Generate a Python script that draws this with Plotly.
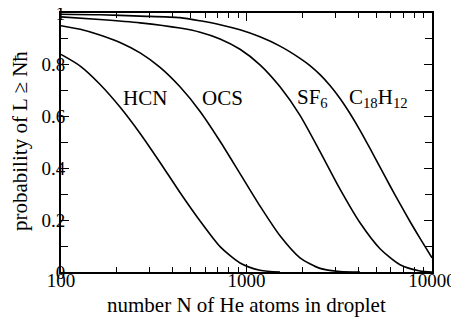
import plotly.graph_objects as go

# Data
hcn_n = [100, 127, 162, 208, 267, 342, 438, 562, 720, 923, 1182, 1516]
hcn_p = [0.84, 0.795, 0.725, 0.637, 0.535, 0.423, 0.307, 0.197, 0.098, 0.035, 0.007, 0.0]

ocs_n = [100, 127, 162, 208, 267, 342, 438, 562, 720, 923, 1182, 1516, 1943, 2491, 3193, 4093]
ocs_p = [0.951, 0.937, 0.915, 0.886, 0.846, 0.79, 0.715, 0.62, 0.505, 0.38, 0.255, 0.14, 0.055, 0.014, 0.002, 0.0]

sf6_n = [100, 162, 267, 438, 562, 720, 923, 1182, 1516, 1943, 2491, 3193, 4093, 5246, 6725, 8620, 10000]
sf6_p = [0.985, 0.975, 0.962, 0.942, 0.926, 0.9, 0.86, 0.80, 0.715, 0.605, 0.465, 0.32, 0.19, 0.09, 0.028, 0.004, 0.0]

c18_n = [100, 162, 267, 438, 562, 720, 923, 1182, 1516, 1943, 2199, 2491, 2819, 3193, 3614,
         4093, 4632, 5246, 5937, 6725, 7610, 8620, 10000]
c18_p = [0.995, 0.993, 0.988, 0.982, 0.97, 0.955, 0.935, 0.908, 0.872, 0.825, 0.797, 0.762, 0.72, 0.67, 0.612,
         0.547, 0.477, 0.405, 0.333, 0.263, 0.195, 0.13, 0.055]

y_ticks = [0, 0.2, 0.4, 0.6, 0.8, 1]
y_tick_text = ["0", "0.2", "0.4", "0.6", "0.8", "1"]
x_ticks = [100, 1000, 10000]
x_tick_text = ["100", "1000", "10000"]
x_minor = [200, 300, 400, 500, 600, 700, 800, 900,
           2000, 3000, 4000, 5000, 6000, 7000, 8000, 9000]

labels = ["HCN", "OCS", "SF<sub>6</sub>", "C<sub>18</sub>H<sub>12</sub>"]
label_x = [0.226, 0.434, 0.679, 0.857]
label_y = [0.672, 0.672, 0.672, 0.672]

x_title = "number N of He atoms in droplet"
y_title = "probability of L ≥ Nħ"

FONT = "Liberation Serif"

fig = go.Figure()
for xs, ys in [(hcn_n, hcn_p), (ocs_n, ocs_p), (sf6_n, sf6_p), (c18_n, c18_p)]:
    fig.add_trace(go.Scatter(x=xs, y=ys, mode="lines",
                             line=dict(color="black", width=1.6, shape="spline", smoothing=0.7),
                             showlegend=False, hoverinfo="skip", cliponaxis=True))

for t, lx, ly in zip(labels, label_x, label_y):
    fig.add_annotation(text=t, x=lx, y=ly, xref="paper", yref="paper",
                       showarrow=False, font=dict(family=FONT, size=21, color="black"),
                       xanchor="center", yanchor="middle")

fig.add_annotation(text=x_title, x=(246 - 61) / 371, y=-0.127, xref="paper", yref="paper",
                   showarrow=False, font=dict(family=FONT, size=21, color="black"),
                   xanchor="center", yanchor="middle")
fig.add_annotation(text=y_title, x=-0.111, y=0.505, xref="paper", yref="paper",
                   textangle=-90, showarrow=False, font=dict(family=FONT, size=21, color="black"),
                   xanchor="center", yanchor="middle")

# the page body has an 8px default margin; the figure is sized so the plot lands where the reference has it
fig.update_layout(
    width=451, height=310,
    margin=dict(l=53, r=27, t=5, b=46, autoexpand=False),
    paper_bgcolor="white", plot_bgcolor="white",
    font=dict(family=FONT, size=19, color="black"),
    xaxis=dict(type="log", range=[2, 4], showgrid=False, zeroline=False, automargin=False,
               showline=True, linecolor="black", linewidth=2, mirror="ticks",
               ticks="inside", ticklen=8, tickwidth=1.3, tickcolor="black",
               tickvals=x_ticks, ticktext=x_tick_text, ticklabelstandoff=-10,
               ticklabeloverflow="allow",
               minor=dict(tickvals=x_minor, ticks="inside", ticklen=5, tickwidth=1.3, tickcolor="black"),
               tickfont=dict(family=FONT, size=19)),
    yaxis=dict(range=[0, 1], showgrid=False, zeroline=False, automargin=False,
               showline=True, linecolor="black", linewidth=2, mirror="ticks",
               ticks="inside", ticklen=8, tickwidth=1.3, tickcolor="black",
               tickvals=y_ticks, ticktext=y_tick_text, ticklabelstandoff=-10,
               ticklabeloverflow="allow",
               minor=dict(dtick=0.1, ticks="inside", ticklen=7, tickwidth=1.3, tickcolor="black"),
               tickfont=dict(family=FONT, size=19)),
)

fig.write_html("out.html")
